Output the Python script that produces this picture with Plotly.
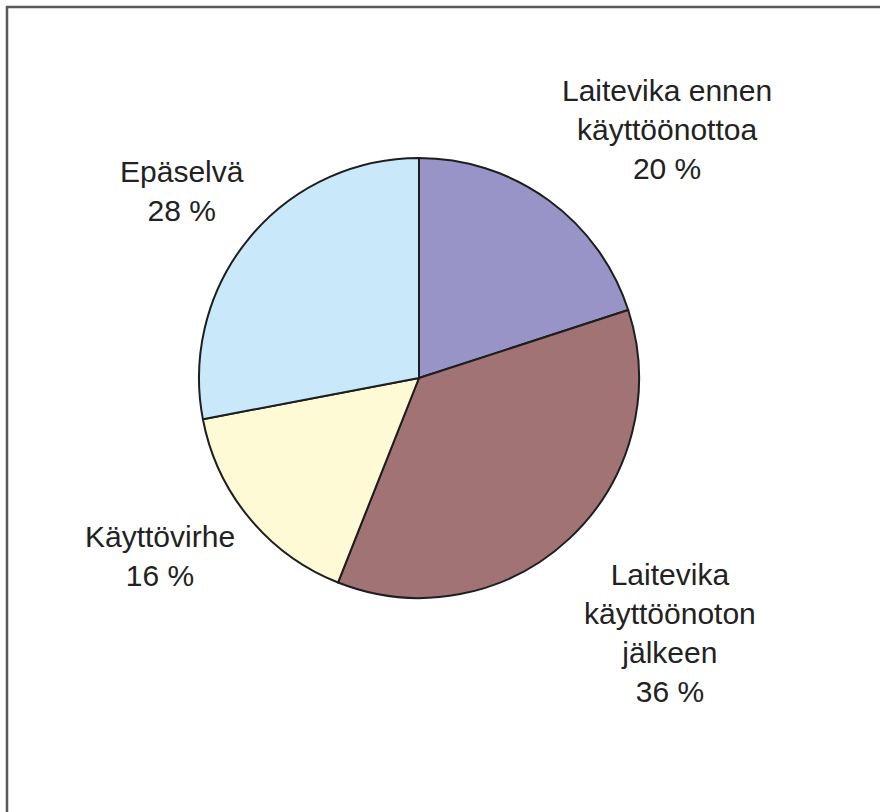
import plotly.graph_objects as go

categories = ["Laitevika ennen<br>käyttöönottoa", "Laitevika<br>käyttöönoton<br>jälkeen", "Käyttövirhe", "Epäselvä"]
values = [20, 36, 16, 28]
colors = ["#9994C7", "#A27374", "#FFFAD6", "#C9E9FA"]

W, H = 880, 812
cx, cy, r = 419, 378, 220

fig = go.Figure(go.Pie(
    labels=categories,
    values=values,
    sort=False,
    direction="clockwise",
    rotation=0,
    marker=dict(colors=colors, line=dict(color="#1e1e1e", width=2)),
    textinfo="none",
    hoverinfo="none",
    showlegend=False,
    domain=dict(x=[(cx - r) / W, (cx + r) / W], y=[1 - (cy + r) / H, 1 - (cy - r) / H]),
))

# label centres (pixels)
label_pos = [(667, 129), (670, 633), (160, 556), (182, 191)]
for cat, val, (px, py) in zip(categories, values, label_pos):
    fig.add_annotation(
        x=px / W, y=1 - py / H, xref="paper", yref="paper",
        text=f"{cat}<br>{val} %", showarrow=False,
        font=dict(family="Liberation Sans, Arial, sans-serif", size=30, color="#222222"),
        align="center", xanchor="center", yanchor="middle",
    )

# frame (only top and left edges visible)
fig.add_shape(type="line", xref="paper", yref="paper", x0=6 / W, x1=1, y0=1 - 7 / H, y1=1 - 7 / H,
              line=dict(color="#5a5a5a", width=2.5))
fig.add_shape(type="line", xref="paper", yref="paper", x0=7 / W, x1=7 / W, y0=0, y1=1 - 6 / H,
              line=dict(color="#5a5a5a", width=2.5))

fig.update_layout(
    width=W, height=H,
    margin=dict(l=0, r=0, t=0, b=0),
    paper_bgcolor="white", plot_bgcolor="white",
)

fig.write_html("out.html", config={"displayModeBar": False},
               post_script="document.body.style.margin='0';")
